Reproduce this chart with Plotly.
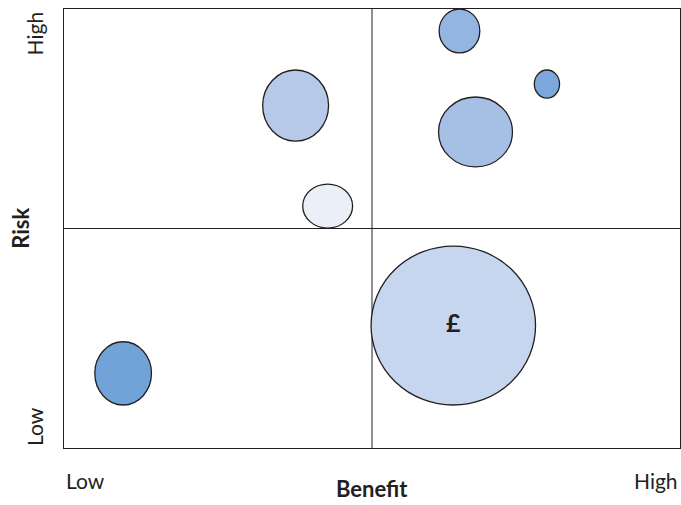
import plotly.graph_objects as go

# Projects placed on the benefit / risk grid (axis units 0-10, midpoint 5)
benefit = [6.42, 7.84, 6.68, 3.76, 4.28, 6.32, 0.96]
risk = [9.50, 8.29, 7.20, 7.80, 5.51, 2.79, 1.70]
# bubble extent along each axis
width = [0.66, 0.41, 1.20, 1.07, 0.81, 2.67, 0.92]
height = [1.00, 0.64, 1.59, 1.62, 1.00, 3.62, 1.44]
colors = ["#93b5e1", "#7ba7da", "#a6c0e5", "#b6c9e8", "#eaeff8", "#c6d6ef", "#72a3d8"]
labels = ["", "", "", "", "", "£", ""]

axis_min, axis_max, mid = 0, 10, 5
tick_low, tick_high = "Low", "High"

font = "Lato, 'Open Sans', sans-serif"
ink = "#231f20"

fig = go.Figure()

shapes = []
# quadrant dividers
shapes.append(dict(type="line", xref="x", yref="y", x0=mid, x1=mid, y0=axis_min, y1=axis_max,
                   line=dict(color=ink, width=1), layer="below"))
shapes.append(dict(type="line", xref="x", yref="y", x0=axis_min, x1=axis_max, y0=mid, y1=mid,
                   line=dict(color=ink, width=1), layer="below"))
for bx, ry, w, h, c in zip(benefit, risk, width, height, colors):
    shapes.append(dict(type="circle", xref="x", yref="y",
                       x0=bx - w / 2, x1=bx + w / 2, y0=ry - h / 2, y1=ry + h / 2,
                       fillcolor=c, line=dict(color=ink, width=1.3), layer="below"))

# bubble labels, drawn on top of the bubbles
fig.add_trace(go.Scatter(x=benefit, y=risk, mode="text", text=labels,
                         textfont=dict(family=font, size=25, color=ink, weight="bold"),
                         textposition="middle center",
                         hoverinfo="skip", showlegend=False))

annotations = [
    dict(text="<b>Benefit</b>", x=0.5, y=-0.128, xref="paper", yref="paper",
         yanchor="bottom", showarrow=False, font=dict(family=font, size=22, color=ink)),
    dict(text=tick_low, x=0.0, y=-0.042, xref="paper", yref="paper", xanchor="left",
         yanchor="top", showarrow=False, font=dict(family=font, size=21, color=ink)),
    dict(text=tick_high, x=1.0, y=-0.042, xref="paper", yref="paper", xanchor="right",
         yanchor="top", showarrow=False, font=dict(family=font, size=21, color=ink)),
    dict(text="<b>Risk</b>", x=-0.071, y=0.5, xref="paper", yref="paper", textangle=-90,
         xanchor="center", showarrow=False, font=dict(family=font, size=22, color=ink)),
    dict(text=tick_high, x=-0.048, y=1.0, xref="paper", yref="paper", textangle=-90,
         xanchor="center", yanchor="top", showarrow=False, font=dict(family=font, size=21, color=ink)),
    dict(text=tick_low, x=-0.048, y=0.0, xref="paper", yref="paper", textangle=-90,
         xanchor="center", yanchor="bottom", showarrow=False, font=dict(family=font, size=21, color=ink)),
]

axis_style = dict(range=[axis_min, axis_max], showgrid=False, zeroline=False, showticklabels=False,
                  ticks="", showline=True, mirror=True, linecolor=ink, linewidth=1, fixedrange=True)

fig.update_layout(
    width=681, height=505,
    margin=dict(l=64, r=1, t=9, b=57),
    paper_bgcolor="white", plot_bgcolor="white",
    xaxis=axis_style, yaxis=axis_style,
    shapes=shapes, annotations=annotations,
)

fig.write_html("out.html")
